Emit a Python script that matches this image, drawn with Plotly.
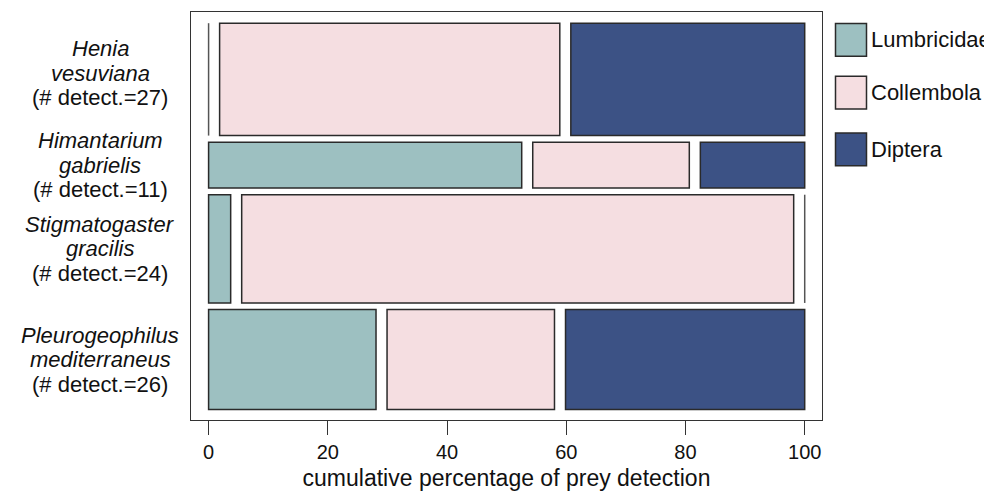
import plotly.graph_objects as go

# ---- data ----
species_genus = ["Henia", "Himantarium", "Stigmatogaster", "Pleurogeophilus"]
species_epithet = ["vesuviana", "gabrielis", "gracilis", "mediterraneus"]
detect_labels = ["(# detect.=27)", "(# detect.=11)", "(# detect.=24)", "(# detect.=26)"]
prey = ["Lumbricidae", "Collembola", "Diptera"]
lumbricidae = [0, 6, 1, 7]
collembola = [16, 3, 25, 7]
diptera = [11, 2, 0, 10]
colors = ["#9DC0C1", "#F5DEE1", "#3C5285"]
tick_vals = [0, 20, 40, 60, 80, 100]

counts = [lumbricidae, collembola, diptera]
n_rows = len(species_genus)
gap_x = 1.85
gap_y = 1.6
outline = "#2a2a2a"

# mosaic geometry in data units
row_tot = [sum(c[i] for c in counts) for i in range(n_rows)]
row_top, row_bot = [], []
y = 0.0
for t in row_tot:
    row_top.append(y)
    row_bot.append(y + t)
    y += t + gap_y
y_total = y - gap_y

fig = go.Figure()
avail = 100 - gap_x * (len(prey) - 1)
starts = [[0.0] * len(prey) for _ in range(n_rows)]
widths = [[0.0] * len(prey) for _ in range(n_rows)]
for i in range(n_rows):
    x = 0.0
    for j in range(len(prey)):
        w = counts[j][i] / row_tot[i] * avail
        starts[i][j] = x
        widths[i][j] = w
        x += w + gap_x

for j, name in enumerate(prey):
    xs, bases, ys, ws = [], [], [], []
    for i in range(n_rows):
        if counts[j][i] > 0:
            xs.append(widths[i][j])
            bases.append(starts[i][j])
            ys.append((row_top[i] + row_bot[i]) / 2)
            ws.append(row_bot[i] - row_top[i])
    fig.add_trace(go.Bar(orientation="h", x=xs, base=bases, y=ys, width=ws,
                         marker=dict(color=colors[j], line=dict(color=outline, width=1.5)),
                         name=name, showlegend=False, hoverinfo="skip"))
    # zero-count cells are drawn as lines
    for i in range(n_rows):
        if counts[j][i] == 0:
            fig.add_trace(go.Scatter(x=[starts[i][j], starts[i][j]],
                                     y=[row_top[i], row_bot[i]], mode="lines",
                                     line=dict(color="#555555", width=1.5),
                                     showlegend=False, hoverinfo="skip"))

OFF = 8  # page body margin
W, H = 992 - OFF, 491 - OFF
L, T = 191 - OFF, 11 - OFF
R, B = W - (822 - OFF), H - (423 - OFF)
pw, ph = W - L - R, H - T - B


def px_x(p):
    return (p - OFF - L) / pw


def px_y(p):
    return 1 - (p - OFF - T) / ph


annotations = []
line_gap = 24.5
for i in range(n_rows):
    yc = (row_top[i] + row_bot[i]) / 2
    base_shift = 6 if i == 0 else 0
    lines = ["<i>%s</i>" % species_genus[i], "<i>%s</i>" % species_epithet[i], detect_labels[i]]
    for k, txt in enumerate(lines):
        annotations.append(dict(x=px_x(100), xref="paper", y=yc, yref="y",
                                text=txt, showarrow=False, xanchor="center", yanchor="middle",
                                yshift=base_shift + (1 - k) * line_gap,
                                font=dict(size=22, color="#111111")))

# legend drawn as large swatches
shapes = []
leg_y = [22.7, 76, 133.3]
for j, name in enumerate(prey):
    shapes.append(dict(type="rect", xref="paper", yref="paper",
                       x0=px_x(835.5), x1=px_x(866.5),
                       y0=px_y(leg_y[j] + 33), y1=px_y(leg_y[j]),
                       fillcolor=colors[j], line=dict(color=outline, width=1.5)))
    annotations.append(dict(x=px_x(869), xref="paper",
                            y=px_y(leg_y[j] + 16.5), yref="paper",
                            text=name, showarrow=False, xanchor="left", yanchor="middle",
                            font=dict(size=22, color="#111111")))

fig.update_layout(
    width=W, height=H,
    margin=dict(l=L, r=R, t=T, b=B, pad=0),
    plot_bgcolor="white", paper_bgcolor="white",
    barmode="overlay",
    font=dict(family="Liberation Sans, Arial, sans-serif", color="#111111"),
    annotations=annotations, shapes=shapes,
    xaxis=dict(range=[-2.95, 102.9], tickvals=tick_vals, ticks="outside", ticklen=14,
               tickwidth=1.4, tickcolor="#333333", showline=True, mirror=True,
               linecolor="#333333", linewidth=1.4, showgrid=False, zeroline=False,
               tickfont=dict(size=20),
               title=dict(text="cumulative percentage of prey detection",
                          font=dict(size=23), standoff=9)),
    yaxis=dict(range=[y_total + 2.52, -2.69], showticklabels=False, ticks="",
               showline=True, mirror=True, linecolor="#333333", linewidth=1.4,
               showgrid=False, zeroline=False),
)

fig.write_html("out.html")
